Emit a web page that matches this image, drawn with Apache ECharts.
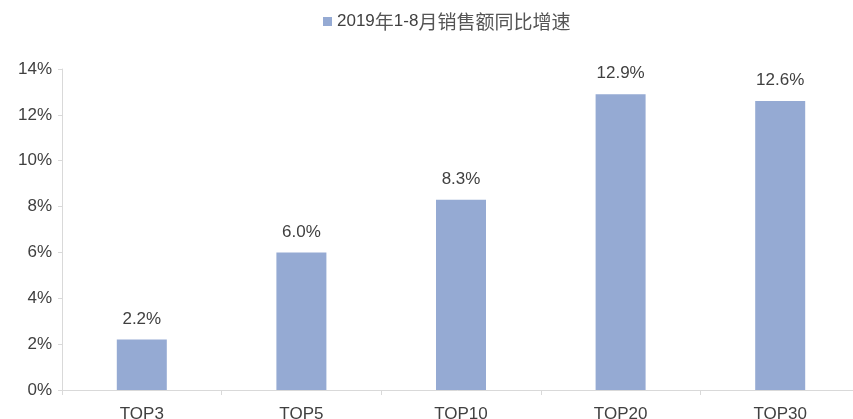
<!DOCTYPE html>
<html>
<head>
<meta charset="utf-8">
<script src="https://cdn.jsdelivr.net/npm/echarts@6/dist/echarts.min.js"></script>
<style>
  html, body { margin: 0; padding: 0; background: #fff; }
  #chart { width: 853px; height: 419px; }
</style>
</head>
<body>
<div id="chart"></div>
<script>
// 数据
const categories = ['TOP3', 'TOP5', 'TOP10', 'TOP20', 'TOP30'];
const growth = [2.2, 6.0, 8.3, 12.9, 12.6];
const seriesName = '2019年1-8月销售额同比增速';

const chart = echarts.init(document.getElementById('chart'));
const txt = '#404040';
const axisGray = '#d9d9d9';

// 图例文字：中文字符稍大一些，拉开字距
const legendFmt = name => name.replace(/([\u4e00-\u9fa5]+)/g, '{cjk|$1}').replace(/(^|\})([^{}]+?)(?=\{|$)/g, '$1{lat|$2}');

chart.setOption({
  animation: false,
  textStyle: { fontFamily: 'Liberation Sans, Arial, sans-serif' },
  legend: {
    top: 7,
    left: 318,
    itemWidth: 9,
    itemHeight: 9,
    itemGap: 4,
    icon: 'rect',
    formatter: legendFmt,
    textStyle: {
      color: txt,
      rich: {
        lat: { fontSize: 17, color: txt, fontFamily: 'Liberation Sans, Arial, sans-serif' },
        cjk: { fontSize: 19, color: '#555555', fontFamily: '"Noto Sans CJK SC", sans-serif' }
      }
    },
    data: [seriesName]
  },
  grid: { left: 62, top: 69, width: 798, bottom: 29, outerBoundsMode: 'none', containLabel: false },
  xAxis: {
    type: 'category',
    data: categories,
    axisLine: { lineStyle: { color: axisGray, width: 1 } },
    axisTick: { show: true, length: 5, lineStyle: { color: axisGray } },
    axisLabel: { color: txt, fontSize: 17, margin: 16 }
  },
  yAxis: {
    type: 'value',
    min: 0,
    max: 14,
    interval: 2,
    axisLine: { show: true, lineStyle: { color: axisGray, width: 1 } },
    axisTick: { show: true, length: 4, lineStyle: { color: axisGray } },
    splitLine: { show: false },
    axisLabel: { color: txt, fontSize: 17, margin: 10, formatter: v => v + '%' }
  },
  series: [{
    name: seriesName,
    type: 'bar',
    data: growth,
    barWidth: 50,
    itemStyle: { color: '#95aad3' },
    label: {
      show: true,
      position: 'top',
      distance: 12,
      color: txt,
      fontSize: 17,
      formatter: p => p.value.toFixed(1) + '%'
    }
  }]
});
</script>
</body>
</html>
